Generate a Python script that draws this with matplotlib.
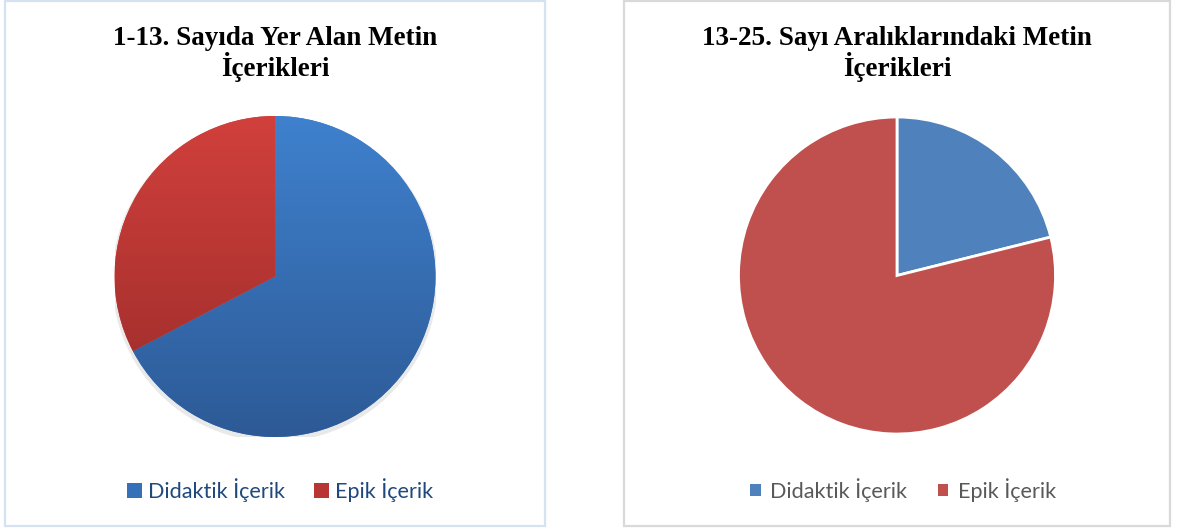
import numpy as np
import matplotlib
matplotlib.use('Agg')
import matplotlib.pyplot as plt
from matplotlib.colors import LinearSegmentedColormap
from matplotlib.patches import Rectangle, Patch, Circle

# values (percent of texts)
categories = ['Didaktik İçerik', 'Epik İçerik']
values_1_13 = [67.3, 32.7]
values_13_25 = [21.1, 78.9]
titles = ['1-13. Sayıda Yer Alan Metin\nİçerikleri',
          '13-25. Sayı Aralıklarındaki Metin\nİçerikleri']

W, H = 1190, 532
fig = plt.figure(figsize=(W / 100, H / 100), dpi=100)


def px_axes(cx, cy, r):
    # axes placed by pixel centre/radius (y measured from the top)
    return fig.add_axes([(cx - r) / W, (H - cy - r) / H, 2 * r / W, 2 * r / H])


def panel(x0, y0, x1, y1, color):
    fig.patches.append(Rectangle((x0 / W, 1 - y1 / H), (x1 - x0) / W, (y1 - y0) / H,
                                 transform=fig.transFigure, fill=False,
                                 edgecolor=color, linewidth=1.6))


panel(5, 1, 545, 526, '#d5e2f4')
panel(624, 1, 1170, 526, '#d9d9d9')

# ---- left chart: gradient filled pie ----
ax1 = px_axes(275, 276.5, 160.5)
grads = [('#3f81ce', '#2d5a96'), ('#d1403c', '#982b29')]
ax1.add_patch(Circle((0.0, -0.015), 1.015, facecolor='#e9e9e9', edgecolor='none', zorder=0))
wedges, _ = ax1.pie(values_1_13, startangle=90, counterclock=False, radius=1,
                    colors=[g[0] for g in grads], wedgeprops=dict(linewidth=0))
grad = np.linspace(0, 1, 256).reshape(-1, 1)
for w, (top, bot) in zip(wedges, grads):
    cmap = LinearSegmentedColormap.from_list('g', [top, bot])
    im = ax1.imshow(grad, extent=[-1, 1, -1, 1], cmap=cmap, origin='upper',
                    aspect='auto', zorder=2)
    im.set_clip_path(w)
ax1.set_xlim(-1, 1)
ax1.set_ylim(-1, 1)
ax1.axis('off')

# ---- right chart: flat pie ----
ax2 = px_axes(897, 275.5, 158.5)
colors2 = ['#4f81bd', '#c0504d']
ax2.pie(values_13_25, startangle=90, counterclock=False, radius=1, colors=colors2,
        wedgeprops=dict(edgecolor='white', linewidth=2))
ax2.set_xlim(-1, 1)
ax2.set_ylim(-1, 1)
ax2.axis('off')

# titles
for cx, t in zip([275, 897], titles):
    fig.text(cx / W, 1 - 54 / H, t, ha='center', va='center', family='Liberation Serif',
             fontweight='bold', fontsize=19.5, linespacing=1.08)

# legends
leg1 = fig.legend(handles=[Patch(facecolor='#3670b8', label=categories[0]),
                           Patch(facecolor='#b73633', label=categories[1])],
                  loc='center', bbox_to_anchor=(280 / W, 1 - 490 / H), ncol=2,
                  frameon=False, handlelength=0.7, handleheight=0.7,
                  handletextpad=0.3, columnspacing=1.3,
                  prop=dict(family='Lato', size=15.6))
for t in leg1.get_texts():
    t.set_color('#1f497d')

leg2 = fig.legend(handles=[Patch(facecolor=colors2[0], label=categories[0]),
                           Patch(facecolor=colors2[1], label=categories[1])],
                  loc='center', bbox_to_anchor=(903 / W, 1 - 490 / H), ncol=2,
                  frameon=False, handlelength=0.5, handleheight=0.5,
                  handletextpad=0.45, columnspacing=1.4,
                  prop=dict(family='Lato', size=15.6))
for t in leg2.get_texts():
    t.set_color('#595959')

fig.savefig('out.png', dpi=100, facecolor='white')
